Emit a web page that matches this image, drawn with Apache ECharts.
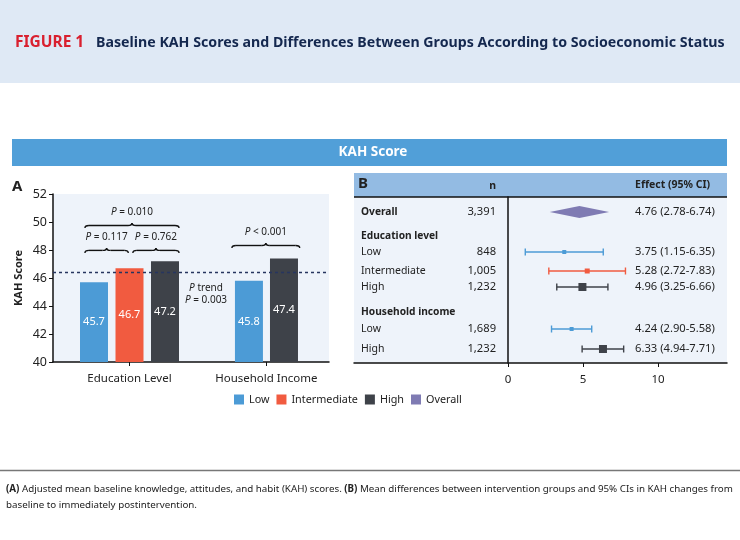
<!DOCTYPE html>
<html>
<head>
<meta charset="utf-8">
<style>html,body{margin:0;padding:0;background:#fff}#chart{width:740px;height:540px}</style>
<script src="https://cdn.jsdelivr.net/npm/echarts@6/dist/echarts.min.js"></script>
</head>
<body>
<div id="chart"></div>
<script>
const FONT = '"Noto Sans"';
const COLORS = { Low: '#4c9bd6', Intermediate: '#f15b40', High: '#3e4249', Overall: '#7f7bb3' };

// panel A
const groupNames = ['Education Level', 'Household Income'];
const groupTicks = [2.155, 6.01];
const lowSlots = [1.155, 5.52];
const lowScores = [45.7, 45.8];
const intermediateSlots = [2.155];
const intermediateScores = [46.7];
const highSlots = [3.155, 6.507];
const highScores = [47.2, 47.4];
const overallMean = 46.38;
const braceFrom = [0.9, 0.9, 2.25, 5.04];
const braceTo = [3.55, 2.12, 3.55, 6.95];
const braceY = [49.93, 48.15, 48.15, 48.5];
const braceText = ['{i|P} = 0.010', '{i|P} = 0.117', '{i|P} = 0.762', '{i|P} < 0.001'];
const trendText = ['{i|P} trend', '{i|P} = 0.003'];

// panel B
const rowLabels = ['Overall', 'Education level', 'Low', 'Intermediate', 'High', 'Household income', 'Low', 'High'];
const rowBold = [true, true, false, false, false, true, false, false];
const rowPos = [15, 39, 55, 74, 90, 115, 132, 152];
const rowN = ['3,391', '', '848', '1,005', '1,232', '', '1,689', '1,232'];
const rowGroup = ['Overall', '', 'Low', 'Intermediate', 'High', '', 'Low', 'High'];
const rowEffect = [4.76, null, 3.75, 5.28, 4.96, null, 4.24, 6.33];
const rowLower = [2.78, null, 1.15, 2.72, 3.25, null, 2.90, 4.94];
const rowUpper = [6.74, null, 6.35, 7.83, 6.66, null, 5.58, 7.71];
const rowEffectText = ['4.76 (2.78-6.74)', '', '3.75 (1.15-6.35)', '5.28 (2.72-7.83)', '4.96 (3.25-6.66)', '', '4.24 (2.90-5.58)', '6.33 (4.94-7.71)'];

const labelColX = -9.8;
const nColX = -0.8;
const effectColX = 8.47;
const markerSize = { Low: 4, Intermediate: 5, High: 8 };

const chart = echarts.init(document.getElementById('chart'));

function braceShape(x0, x1, y, color) {
  const mid = (x0 + x1) / 2;
  const h = 5, r = 4;
  const curve = (x1_, y1_, x2_, y2_, cx, cy) => ({
    type: 'bezierCurve',
    shape: { x1: x1_, y1: y1_, x2: x2_, y2: y2_, cpx1: cx, cpy1: cy },
    style: { stroke: color, fill: null, lineWidth: 1.4 }
  });
  const line = (xa, xb) => ({
    type: 'line',
    shape: { x1: xa, y1: y + h / 2, x2: xb, y2: y + h / 2 },
    style: { stroke: color, lineWidth: 1.4 }
  });
  return [
    curve(x0, y + h, x0 + r, y + h / 2, x0, y + h / 2),
    line(x0 + r, mid - r),
    curve(mid - r, y + h / 2, mid, y, mid, y + h / 2),
    curve(mid, y, mid + r, y + h / 2, mid, y + h / 2),
    line(mid + r, x1 - r),
    curve(x1 - r, y + h / 2, x1, y + h, x1, y + h / 2)
  ];
}

const richP = { i: { fontStyle: 'italic', fontFamily: FONT, fontSize: 10, color: '#222' } };

function barSeries(name, slots, values) {
  return {
    name, type: 'bar', xAxisIndex: 0, yAxisIndex: 0,
    barWidth: 28, barGap: '-100%',
    itemStyle: { color: COLORS[name] },
    data: slots.map((x, i) => [x, values[i]]),
    label: {
      show: true, position: 'inside', color: '#fff', fontFamily: FONT, fontSize: 11,
      formatter: p => p.value[1].toFixed(1)
    }
  };
}

function forestSeries(name) {
  const idx = rowGroup.map((g, i) => (g === name ? i : -1)).filter(i => i >= 0);
  return {
    name, type: 'custom', xAxisIndex: 1, yAxisIndex: 1,
    itemStyle: { color: COLORS[name] },
    data: idx.map(i => [rowEffect[i], rowPos[i], rowLower[i], rowUpper[i]]),
    renderItem: (params, api) => {
      const c = api.coord([api.value(0), api.value(1)]);
      const l = api.coord([api.value(2), api.value(1)]);
      const u = api.coord([api.value(3), api.value(1)]);
      if (name === 'Overall') {
        return {
          type: 'polygon',
          shape: { points: [[l[0], c[1]], [c[0], c[1] - 6], [u[0], c[1]], [c[0], c[1] + 6]] },
          style: { fill: COLORS.Overall }
        };
      }
      const s = markerSize[name];
      const stroke = { stroke: COLORS[name], lineWidth: 1.4 };
      return {
        type: 'group',
        children: [
          { type: 'line', shape: { x1: l[0], y1: c[1], x2: u[0], y2: c[1] }, style: stroke },
          { type: 'line', shape: { x1: l[0], y1: c[1] - 3.5, x2: l[0], y2: c[1] + 3.5 }, style: stroke },
          { type: 'line', shape: { x1: u[0], y1: c[1] - 3.5, x2: u[0], y2: c[1] + 3.5 }, style: stroke },
          { type: 'rect', shape: { x: c[0] - s / 2, y: c[1] - s / 2, width: s, height: s }, style: { fill: COLORS[name] } }
        ]
      };
    }
  };
}

const option = {
  animation: false,
  backgroundColor: '#fff',
  textStyle: { fontFamily: FONT },
  grid: [
    { left: 53, top: 194, width: 276, height: 168, show: true, backgroundColor: '#eef3fa', borderWidth: 0 },
    { left: 354, top: 197, width: 373, height: 166, show: true, backgroundColor: '#eef3fa', borderWidth: 0 }
  ],
  xAxis: [
    {
      type: 'value', gridIndex: 0, min: 0, max: 7.775, splitLine: { show: false },
      axisLine: { onZero: false, lineStyle: { color: '#111', width: 1.5 } },
      axisTick: { show: true, customValues: groupTicks, length: 4, lineStyle: { color: '#111' } },
      axisLabel: {
        customValues: groupTicks, fontSize: 11.5, color: '#222', margin: 11,
        formatter: v => groupNames[groupTicks.indexOf(v)]
      }
    },
    {
      type: 'value', gridIndex: 1, min: -10.27, max: 14.6, splitLine: { show: false },
      axisLine: { onZero: false, lineStyle: { color: '#111', width: 1.5 } },
      axisTick: { show: true, customValues: [0, 5, 10], length: 4, lineStyle: { color: '#111' } },
      axisLabel: { customValues: [0, 5, 10], fontSize: 11.5, color: '#222', margin: 11 }
    }
  ],
  yAxis: [
    {
      type: 'value', gridIndex: 0, min: 40, max: 52, interval: 2, splitLine: { show: false },
      name: 'KAH Score', nameLocation: 'middle', nameGap: 29,
      nameTextStyle: { fontSize: 11, fontWeight: 'bold', color: '#222' },
      axisLine: { show: true, onZero: false, lineStyle: { color: '#111', width: 1.5 } },
      axisTick: { show: true, length: 4, lineStyle: { color: '#111' } },
      axisLabel: { fontSize: 12.5, color: '#222', margin: 6 }
    },
    {
      type: 'value', gridIndex: 1, min: 0, max: 166, inverse: true, splitLine: { show: false },
      axisLine: { show: true, onZero: true, lineStyle: { color: '#111', width: 1.5 } },
      axisTick: { show: false }, axisLabel: { show: false }
    }
  ],
  legend: {
    data: ['Low', 'Intermediate', 'High', 'Overall'],
    left: 229, top: 389, itemWidth: 10, itemHeight: 10, itemGap: 7, icon: 'rect',
    textStyle: { fontFamily: FONT, fontSize: 10.8, color: '#222' },
    selectedMode: false
  },
  series: [
    Object.assign(barSeries('Low', lowSlots, lowScores), {
      markLine: {
        silent: true, symbol: 'none', label: { show: false },
        lineStyle: { color: '#27355f', type: [3, 3], width: 1.3 },
        data: [{ yAxis: overallMean }]
      }
    }),
    barSeries('Intermediate', intermediateSlots, intermediateScores),
    barSeries('High', highSlots, highScores),
    {
      name: 'annotations', type: 'custom', xAxisIndex: 0, yAxisIndex: 0, z: 5,
      data: braceFrom.map((x, i) => [x, braceTo[i], braceY[i], i]),
      renderItem: (params, api) => {
        const a = api.coord([api.value(0), api.value(2)]);
        const b = api.coord([api.value(1), api.value(2)]);
        const i = api.value(3);
        return {
          type: 'group',
          children: braceShape(a[0], b[0], a[1], '#111').concat([{
            type: 'text',
            style: {
              x: (a[0] + b[0]) / 2, y: a[1] - 11, text: braceText[i],
              align: 'center', verticalAlign: 'middle',
              font: '10px ' + FONT, fill: '#222', rich: richP
            }
          }])
        };
      }
    },
    forestSeries('Low'),
    forestSeries('Intermediate'),
    forestSeries('High'),
    forestSeries('Overall'),
    {
      name: 'rows', type: 'custom', xAxisIndex: 1, yAxisIndex: 1,
      data: rowPos.map((y, i) => [y, i]),
      renderItem: (params, api) => {
        const i = api.value(1);
        const y = api.coord([0, api.value(0)])[1];
        const txt = (col, text, align, font) => ({
          type: 'text',
          style: {
            x: api.coord([col, 0])[0], y, text, align, verticalAlign: 'middle',
            font: font + FONT, fill: '#222'
          }
        });
        return {
          type: 'group',
          children: [
            txt(labelColX, rowLabels[i], 'left', rowBold[i] ? 'bold 10.2px ' : '10.5px '),
            txt(nColX, rowN[i], 'right', '11.2px '),
            txt(effectColX, rowEffectText[i], 'left', '11.2px ')
          ]
        };
      }
    }
  ],
  graphic: [
    { type: 'rect', shape: { x: 0, y: 0, width: 740, height: 83 }, style: { fill: '#dfe9f5' }, z: -1 },
    { type: 'text', x: 15, y: 43, style: { text: 'FIGURE 1', font: 'bold 15.5px ' + FONT, fill: '#d9202f', verticalAlign: 'middle' } },
    { type: 'text', x: 96, y: 43, style: { text: 'Baseline KAH Scores and Differences Between Groups According to Socioeconomic Status', font: 'bold 14.2px ' + FONT, fill: '#14284f', verticalAlign: 'middle' } },
    { type: 'rect', shape: { x: 12, y: 139, width: 715, height: 27 }, style: { fill: '#519fd8' } },
    { type: 'text', x: 373, y: 152, style: { text: 'KAH Score', font: 'bold 13.5px ' + FONT, fill: '#fff', align: 'center', verticalAlign: 'middle' } },
    { type: 'text', x: 12, y: 179, style: { text: 'A', font: 'bold 15px ' + FONT, fill: '#222' } },
    { type: 'rect', shape: { x: 354, y: 173, width: 373, height: 24 }, style: { fill: '#93bbe3' } },
    { type: 'line', shape: { x1: 354, y1: 197, x2: 727, y2: 197 }, style: { stroke: '#111', lineWidth: 1.5 } },
    { type: 'text', x: 358, y: 176, style: { text: 'B', font: 'bold 15px ' + FONT, fill: '#222' } },
    { type: 'text', x: 496, y: 186, style: { text: 'n', font: 'bold 10.5px ' + FONT, fill: '#222', align: 'right', verticalAlign: 'middle' } },
    { type: 'text', x: 635, y: 185, style: { text: 'Effect (95% CI)', font: 'bold 10.5px ' + FONT, fill: '#222', verticalAlign: 'middle' } },
    { type: 'text', x: 206, y: 288, style: { text: trendText[0], align: 'center', verticalAlign: 'middle', font: '10px ' + FONT, fill: '#222', rich: richP } },
    { type: 'text', x: 206, y: 300, style: { text: trendText[1], align: 'center', verticalAlign: 'middle', font: '10px ' + FONT, fill: '#222', rich: richP } },
    { type: 'line', shape: { x1: 0, y1: 470.5, x2: 740, y2: 470.5 }, style: { stroke: '#777', lineWidth: 1.5 } },
    { type: 'text', x: 6, y: 489, style: {
      text: '{b|(A)} Adjusted mean baseline knowledge, attitudes, and habit (KAH) scores. {b|(B)} Mean differences between intervention groups and 95% CIs in KAH changes from',
      font: '9.77px ' + FONT, fill: '#222', verticalAlign: 'middle',
      rich: { b: { fontWeight: 'bold', fontFamily: FONT, fontSize: 9.77, color: '#222' } }
    } },
    { type: 'text', x: 6, y: 505, style: { text: 'baseline to immediately postintervention.', font: '9.77px ' + FONT, fill: '#222', verticalAlign: 'middle' } }
  ]
};

chart.setOption(option);
</script>
</body>
</html>
